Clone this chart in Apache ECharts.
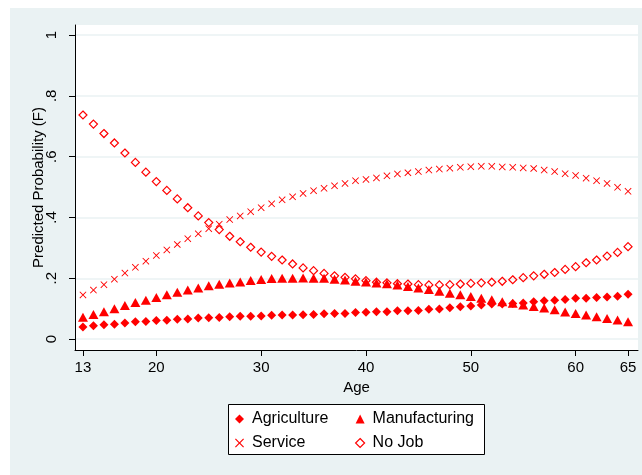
<!DOCTYPE html>
<html>
<head>
<meta charset="utf-8">
<title>Predicted Probability by Age</title>
<script src="https://cdn.jsdelivr.net/npm/echarts@6.0.0/dist/echarts.min.js"></script>
<style>
  html, body { margin: 0; padding: 0; background: #ffffff; }
  #wrap { position: relative; width: 642px; height: 475px; overflow: hidden; }
  #panel { position: absolute; left: 10px; top: 8px; right: 0; bottom: 0; background: #eaf2f3; }
  #chart { position: absolute; left: 0; top: 0; width: 642px; height: 475px; }
</style>
</head>
<body>
<div id="wrap">
  <div id="panel"></div>
  <div id="chart"></div>
</div>
<script>
// Age in years, one point per year
const ages = [13, 14, 15, 16, 17, 18, 19, 20, 21, 22, 23, 24, 25, 26, 27, 28, 29, 30,
  31, 32, 33, 34, 35, 36, 37, 38, 39, 40, 41, 42, 43, 44, 45, 46, 47, 48, 49, 50,
  51, 52, 53, 54, 55, 56, 57, 58, 59, 60, 61, 62, 63, 64, 65];

// Predicted probabilities per outcome
const agriculture = [0.040, 0.044, 0.047, 0.049, 0.053, 0.057, 0.058, 0.061, 0.062, 0.065,
  0.066, 0.069, 0.070, 0.071, 0.073, 0.075, 0.075, 0.076, 0.078, 0.079, 0.079, 0.080,
  0.081, 0.083, 0.084, 0.084, 0.087, 0.088, 0.090, 0.090, 0.093, 0.093, 0.094, 0.098,
  0.099, 0.103, 0.106, 0.109, 0.112, 0.115, 0.115, 0.117, 0.119, 0.123, 0.126, 0.128,
  0.130, 0.134, 0.134, 0.137, 0.138, 0.141, 0.147];

const manufacturing = [0.072, 0.081, 0.090, 0.100, 0.110, 0.120, 0.128, 0.137, 0.146, 0.154,
  0.161, 0.168, 0.175, 0.180, 0.184, 0.188, 0.193, 0.196, 0.199, 0.200, 0.200, 0.201,
  0.200, 0.200, 0.197, 0.194, 0.190, 0.188, 0.184, 0.182, 0.178, 0.173, 0.168, 0.163,
  0.157, 0.151, 0.146, 0.140, 0.134, 0.129, 0.123, 0.118, 0.112, 0.107, 0.102, 0.096,
  0.089, 0.084, 0.079, 0.073, 0.068, 0.063, 0.057];

const service = [0.145, 0.161, 0.179, 0.197, 0.217, 0.236, 0.256, 0.275, 0.293, 0.311,
  0.330, 0.346, 0.363, 0.378, 0.393, 0.405, 0.419, 0.432, 0.445, 0.458, 0.468, 0.479,
  0.488, 0.496, 0.504, 0.512, 0.521, 0.525, 0.530, 0.537, 0.543, 0.547, 0.551, 0.556,
  0.559, 0.562, 0.565, 0.567, 0.568, 0.568, 0.566, 0.565, 0.563, 0.561, 0.556, 0.551,
  0.544, 0.538, 0.529, 0.521, 0.512, 0.499, 0.486];

const noJob = [0.737, 0.707, 0.676, 0.645, 0.612, 0.581, 0.549, 0.518, 0.489, 0.461,
  0.432, 0.405, 0.383, 0.360, 0.338, 0.320, 0.302, 0.286, 0.272, 0.260, 0.247, 0.234,
  0.225, 0.216, 0.208, 0.203, 0.198, 0.192, 0.187, 0.185, 0.182, 0.181, 0.179, 0.178,
  0.178, 0.179, 0.181, 0.183, 0.185, 0.187, 0.190, 0.195, 0.202, 0.208, 0.213, 0.219,
  0.229, 0.238, 0.251, 0.260, 0.273, 0.285, 0.304];

// Axis ticks and their labels
const xTicks = [13, 20, 30, 40, 50, 60, 65];
const yTicks = [0, 0.2, 0.4, 0.6, 0.8, 1];
const yTickLabels = ['0', '.2', '.4', '.6', '.8', '1'];

const RED = '#ff0000';
const FONT = 'Liberation Sans, Arial, sans-serif';
// thin "x" marker drawn as a filled outline
const CROSS = 'path://M0.9,0L5,4.1L9.1,0L10,0.9L5.9,5L10,9.1L9.1,10L5,5.9L0.9,10L0,9.1L4.1,5L0,0.9Z';

function pairs(values) {
  return ages.map((a, i) => [a, values[i]]);
}

const chart = echarts.init(document.getElementById('chart'), null, { renderer: 'canvas' });

chart.setOption({
  backgroundColor: 'transparent',
  animation: false,
  textStyle: { fontFamily: FONT, color: '#000' },
  grid: {
    left: 75, right: 4, top: 25, bottom: 125,
    show: true, backgroundColor: '#ffffff', borderWidth: 0
  },
  xAxis: {
    type: 'value',
    min: 12.24, max: 65.95,
    name: 'Age', nameLocation: 'middle', nameGap: 26,
    nameTextStyle: { fontSize: 15, color: '#000', fontFamily: FONT },
    axisLine: { show: true, onZero: false, lineStyle: { color: '#000', width: 1 } },
    axisTick: { show: true, length: 6, customValues: xTicks, lineStyle: { color: '#000' } },
    axisLabel: { customValues: xTicks, fontSize: 15, color: '#000', margin: 10, fontFamily: FONT },
    splitLine: { show: false }
  },
  yAxis: {
    type: 'value',
    min: -0.036, max: 1.033,
    name: 'Predicted Probability (F)', nameLocation: 'middle', nameGap: 29, nameRotate: 90,
    nameMoveOverlap: false,
    nameTextStyle: { fontSize: 15, color: '#000', fontFamily: FONT },
    axisLine: { show: true, onZero: false, lineStyle: { color: '#000', width: 1 } },
    axisTick: { show: true, length: 6, customValues: yTicks, lineStyle: { color: '#000' } },
    axisLabel: {
      customValues: yTicks, rotate: 90, fontSize: 15, color: '#000', margin: 16, fontFamily: FONT,
      formatter: v => {
        const k = yTicks.findIndex(t => Math.abs(t - v) < 1e-6);
        return k >= 0 ? yTickLabels[k] : '';
      }
    },
    splitLine: { show: true, lineStyle: { color: '#eaf2f3', width: 1.5 } }
  },
  legend: [
    {
      orient: 'vertical', left: 230, top: 406, itemGap: 8,
      itemWidth: 9, itemHeight: 9,
      textStyle: { fontSize: 16, color: '#000', fontFamily: FONT, padding: [0, 0, 0, 3] },
      data: [
        { name: 'Agriculture', icon: 'diamond', itemStyle: { color: RED } },
        { name: 'Service', icon: CROSS, itemStyle: { color: RED } }
      ]
    },
    {
      orient: 'vertical', left: 350, top: 406, itemGap: 8,
      itemWidth: 9, itemHeight: 9,
      textStyle: { fontSize: 16, color: '#000', fontFamily: FONT, padding: [0, 0, 0, 3] },
      data: [
        { name: 'Manufacturing', icon: 'triangle', itemStyle: { color: RED } },
        { name: 'No Job', icon: 'diamond', itemStyle: { color: 'transparent', borderColor: RED, borderWidth: 1.2 } }
      ]
    }
  ],
  graphic: [
    {
      type: 'rect', left: 228, top: 404, z: -1,
      shape: { width: 256, height: 50 },
      style: { fill: '#ffffff', stroke: '#000000', lineWidth: 1 }
    }
  ],
  series: [
    {
      name: 'Agriculture', type: 'scatter', symbol: 'diamond', symbolSize: 9,
      itemStyle: { color: RED, opacity: 1 },
      data: pairs(agriculture)
    },
    {
      name: 'Manufacturing', type: 'scatter', symbol: 'triangle', symbolSize: [10, 9],
      itemStyle: { color: RED, opacity: 1 },
      data: pairs(manufacturing)
    },
    {
      name: 'Service', type: 'scatter', symbol: CROSS, symbolSize: 7,
      itemStyle: { color: RED, opacity: 1 },
      data: pairs(service)
    },
    {
      name: 'No Job', type: 'scatter', symbol: 'diamond', symbolSize: 8,
      itemStyle: { color: 'transparent', borderColor: RED, borderWidth: 1.2, opacity: 1 },
      data: pairs(noJob)
    }
  ]
});
</script>
</body>
</html>
